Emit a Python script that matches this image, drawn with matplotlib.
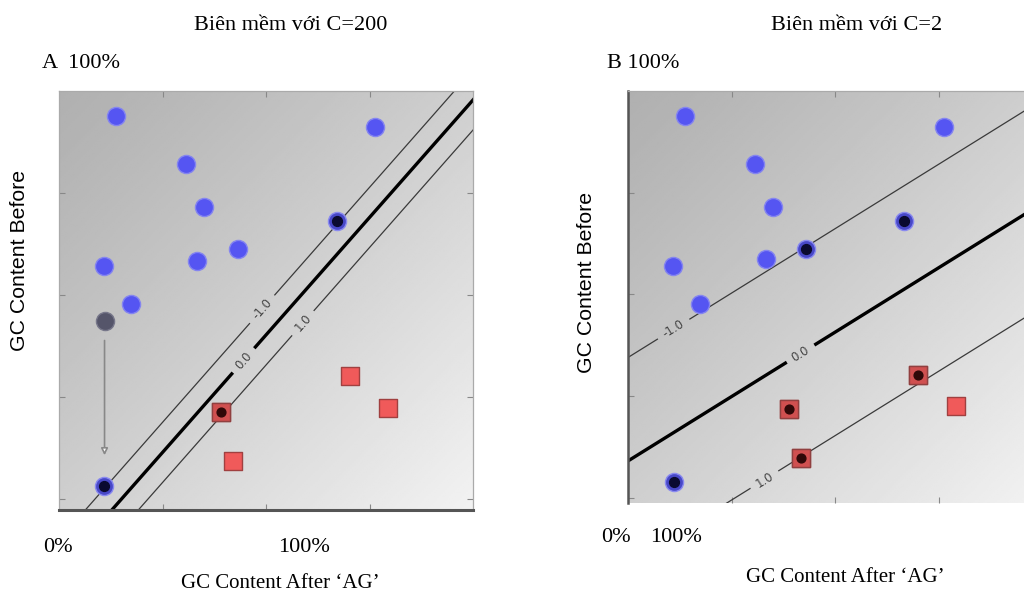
import numpy as np
import matplotlib.pyplot as plt

# points, in axis units (x: GC after 'AG', y: GC before)
a_blue_x = [0.55, 1.23, 1.40, 1.73, 1.33, 0.43, 0.70, 3.05]
a_blue_y = [3.75, 3.28, 2.86, 2.45, 2.33, 2.28, 1.91, 3.65]
a_sv_blue_x = [2.69, 0.43]
a_sv_blue_y = [2.72, 0.13]
a_moved_x = [0.44]
a_moved_y = [1.74]
a_red_x = [2.81, 3.18, 1.68, 1.57]
a_red_y = [1.20, 0.89, 0.37, 0.85]
a_sv_red_x = [1.57]
a_sv_red_y = [0.85]

b_blue_x = [0.55, 1.23, 1.40, 1.33, 0.43, 0.70, 3.05]
b_blue_y = [3.75, 3.28, 2.86, 2.35, 2.28, 1.91, 3.65]
b_sv_blue_x = [1.72, 2.67, 0.44]
b_sv_blue_y = [2.45, 2.72, 0.16]
b_red_x = [2.80, 3.17, 1.67, 1.56]
b_red_y = [1.21, 0.90, 0.39, 0.87]
b_sv_red_x = [2.80, 1.56, 1.67]
b_sv_red_y = [1.21, 0.87, 0.39]

# decision function w.x + b
a_w = [3.906, -3.389]
a_b = -2.366
b_w = [0.622, -0.983]
b_b = 0.357

levels = [-1.0, 0.0, 1.0]
a_label_pos = [(1.94, 1.88), (1.78, 1.36), (2.36, 1.72)]
b_label_pos = [(0.41, 1.71), (1.66, 1.43), (1.33, 0.16)]

titles = ["Biên mềm với C=200", "Biên mềm với C=2"]
serif = ["Liberation Serif", "DejaVu Serif"]
sans = ["Liberation Sans", "DejaVu Sans"]

fig = plt.figure(figsize=(10.24, 5.92), dpi=100)
axA = fig.add_axes([59 / 1024, 1 - 510 / 592, 414 / 1024, 419 / 592])
axB = fig.add_axes([628 / 1024, 1 - 503 / 592, 414 / 1024, 412 / 592])


def panel(ax, ylim, w, b, label_pos, blue, sv_blue, red, sv_red):
    ax.set_xlim(0, 4)
    ax.set_ylim(*ylim)
    # grey shaded background, darker top-left, lighter bottom-right
    gx, gy = np.meshgrid(np.linspace(0, 1, 200), np.linspace(0, 1, 200))
    shade = 0.69 + 0.26 * (0.5 * gx + 0.5 * gy) ** 1.1
    ax.imshow(shade, cmap="gray", vmin=0, vmax=1, extent=[0, 4, ylim[0], ylim[1]],
              origin="upper", aspect="auto", zorder=0)

    xx, yy = np.meshgrid(np.linspace(-0.5, 4.5, 300), np.linspace(-0.5, 4.5, 300))
    zz = w[0] * xx + w[1] * yy + b
    cs = ax.contour(xx, yy, zz, levels=levels, colors=["#3a3a3a", "black", "#3a3a3a"],
                    linewidths=[0.9, 2.4, 0.9], linestyles="solid", zorder=2)
    ax.clabel(cs, fmt="%.1f", fontsize=8.5, colors="#444444", inline=True,
              inline_spacing=7, manual=label_pos)

    ax.scatter(*blue, s=170, color="#5555f2", edgecolors="#8585f0", linewidths=1.0, zorder=3)
    ax.scatter(*sv_blue, s=170, color="#4848c8", edgecolors="#8a8af0", linewidths=1.0, zorder=3)
    ax.scatter(*sv_blue, s=50, color="#0a0a30", zorder=4)
    ax.scatter(*red, s=150, marker="s", color="#f05a5a", edgecolors="#a04040",
               linewidths=1.0, zorder=3)
    ax.scatter(*sv_red, s=150, marker="s", color="#d05050", edgecolors="#904040",
               linewidths=1.0, zorder=3)
    ax.scatter(*sv_red, s=40, color="#300808", zorder=4)

    ax.set_xticks([1, 2, 3])
    ax.set_yticks([0, 1, 2, 3])
    ax.set_xticklabels([])
    ax.set_yticklabels([])
    ax.tick_params(direction="in", length=4, color="#888888", top=True, right=True)
    for s in ax.spines.values():
        s.set_color("#aaaaaa")
        s.set_linewidth(0.9)


panel(axA, (-0.11, 4.0), a_w, a_b, a_label_pos, (a_blue_x, a_blue_y),
      (a_sv_blue_x, a_sv_blue_y), (a_red_x, a_red_y), (a_sv_red_x, a_sv_red_y))
panel(axB, (-0.05, 4.0), b_w, b_b, b_label_pos, (b_blue_x, b_blue_y),
      (b_sv_blue_x, b_sv_blue_y), (b_red_x, b_red_y), (b_sv_red_x, b_sv_red_y))

# point moved onto the margin in panel A
axA.scatter(a_moved_x, a_moved_y, s=170, color="#55556a", edgecolors="#77778a", zorder=3)
axA.annotate("", xy=(a_moved_x[0], 0.40), xytext=(a_moved_x[0], 1.58),
             arrowprops=dict(arrowstyle="-|>", color="#888888", lw=1.2,
                             mutation_scale=10, fc="white"), zorder=3)

axA.spines["bottom"].set_color("#555555")
axA.spines["bottom"].set_linewidth(2.2)
axB.spines["left"].set_color("#555555")
axB.spines["left"].set_linewidth(1.8)
axB.spines["bottom"].set_visible(False)

fs = 16
fig.text(291 / 1024, 1 - 26 / 592, titles[0], ha="center", va="center", family=serif, fontsize=fs)
fig.text(857 / 1024, 1 - 26 / 592, titles[1], ha="center", va="center", family=serif, fontsize=fs)
fig.text(42 / 1024, 1 - 64 / 592, "A  100%", ha="left", va="center", family=serif, fontsize=fs)
fig.text(607 / 1024, 1 - 64 / 592, "B 100%", ha="left", va="center", family=serif, fontsize=fs)
fig.text(43 / 1024, 1 - 547 / 592, "0%", ha="left", va="center", family=serif, fontsize=fs)
fig.text(304 / 1024, 1 - 547 / 592, "100%", ha="center", va="center", family=serif, fontsize=fs)
fig.text(601 / 1024, 1 - 538 / 592, "0%", ha="left", va="center", family=serif, fontsize=fs)
fig.text(650 / 1024, 1 - 538 / 592, "100%", ha="left", va="center", family=serif, fontsize=fs)
fig.text(280 / 1024, 1 - 583 / 592, "GC Content After \u2018AG\u2019", ha="center", va="center",
         family=serif, fontsize=15)
fig.text(845 / 1024, 1 - 577 / 592, "GC Content After \u2018AG\u2019", ha="center", va="center",
         family=serif, fontsize=15)
fig.text(20 / 1024, 1 - 260 / 592, "GC Content Before", rotation=90, ha="center", va="center",
         family=sans, fontsize=15.3)
fig.text(586 / 1024, 1 - 282 / 592, "GC Content Before", rotation=90, ha="center", va="center",
         family=sans, fontsize=15.3)

fig.savefig("out.png", dpi=100)
